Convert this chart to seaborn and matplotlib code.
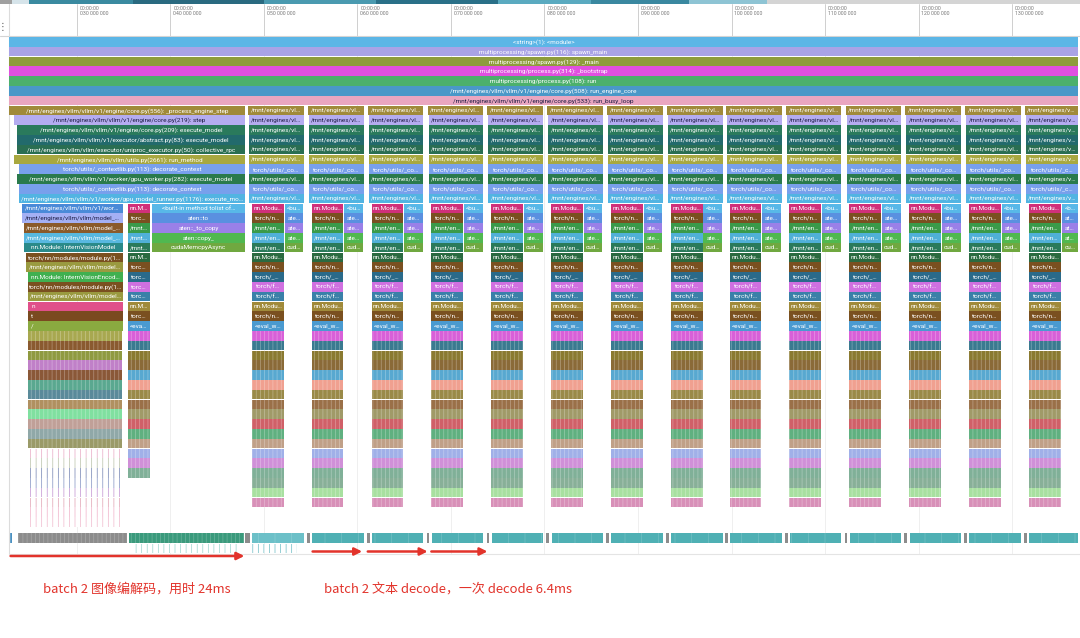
import matplotlib
matplotlib.use("Agg")
import matplotlib.pyplot as plt
from matplotlib.patches import Rectangle
import seaborn as sns

# ===== CONFIGURATION =====
sns.set_theme(style="white")
plt.rcParams['font.family'] = ['Noto Sans CJK SC', 'DejaVu Sans']
plt.rcParams['hatch.linewidth'] = 0.5

FLAME_FONT = ['Roboto', 'DejaVu Sans']
RED = '#e2332b'

# ===== DATA (time in ms, y = stack depth rows) =====
TRACK_START, TRACK_END = 22.73, 137.06
TICKS_MS = [30, 40, 50, 60, 70, 80, 90, 100, 110, 120, 130]

# rows 0-6 span the whole track
ROOT_LABELS = [
    "<string>(1): <module>",
    "multiprocessing/spawn.py(116): spawn_main",
    "multiprocessing/spawn.py(129): _main",
    "multiprocessing/process.py(314): _bootstrap",
    "multiprocessing/process.py(108): run",
    "/mnt/engines/vllm/vllm/v1/engine/core.py(508): run_engine_core",
    "/mnt/engines/vllm/vllm/v1/engine/core.py(533): run_busy_loop",
]
ROOT_COLORS = ['#5cb6e6', '#a9a3e6', '#8e9c3c', '#e050e0', '#4cb06c', '#4a98c8', '#eaa6c0']

# rows 7-16, one slice per engine step
STEP_LABELS = [
    "/mnt/engines/vllm/vllm/v1/engine/core.py(556): _process_engine_step",
    "/mnt/engines/vllm/vllm/v1/engine/core.py(219): step",
    "/mnt/engines/vllm/vllm/v1/engine/core.py(209): execute_model",
    "/mnt/engines/vllm/vllm/v1/executor/abstract.py(83): execute_model",
    "/mnt/engines/vllm/vllm/executor/uniproc_executor.py(50): collective_rpc",
    "/mnt/engines/vllm/vllm/utils.py(2661): run_method",
    "torch/utils/_contextlib.py(113): decorate_context",
    "/mnt/engines/vllm/vllm/v1/worker/gpu_worker.py(282): execute_model",
    "torch/utils/_contextlib.py(113): decorate_context",
    "/mnt/engines/vllm/vllm/v1/worker/gpu_model_runner.py(1176): execute_model",
]
STEP_COLORS = ['#a08a3a', '#b4acf0', '#2a7a5c', '#226a6c', '#2a6e52',
               '#a8a840', '#78a0ec', '#2a7a4c', '#78a0ec', '#52b4e2']

# image-encode step (batch 2)
IMG_STEP_STARTS = [22.73, 23.26, 23.6, 23.6, 23.6, 23.26, 23.8, 23.6, 23.8, 23.8]
IMG_STEP_END = 47.97

IMG_LEFT_LABELS = [
    "/mnt/engines/vllm/vllm/v1/worker/gpu_model_runner.py",
    "/mnt/engines/vllm/vllm/model_executor/models/internvl.py",
    "/mnt/engines/vllm/vllm/model_executor/models/internvl.py",
    "/mnt/engines/vllm/vllm/model_executor/models/intern_vit.py",
    "nn.Module: InternVisionModel",
    "torch/nn/modules/module.py(1751): _wrapped_call_impl",
    "/mnt/engines/vllm/vllm/model_executor/models/intern_vit.py",
    "nn.Module: InternVisionEncoder",
    "torch/nn/modules/module.py(1762): _call_impl",
    "/mnt/engines/vllm/vllm/model_executor/models/intern_vit.py",
    "n", "t", "/",
]
IMG_LEFT_COLORS = ['#4a8ad8', '#a4b0f4', '#8a5a2a', '#58b8e0', '#2a8a8a', '#7a5020',
                   '#9a9a40', '#40b050', '#7a5020', '#9a9a40', '#e0508a', '#7a4a20', '#8aaa40']
IMG_LEFT_STARTS = [24.12, 24.12, 24.33, 24.33, 24.33, 24.55, 24.55,
                   24.76, 24.76, 24.76, 24.76, 24.76, 24.76]
IMG_LEFT_END = 34.92
IMG_STRIPE_COLORS = ['#a8a850', '#8a5a30', '#8f9a40', '#c080c8', '#8a5838', '#5aa890',
                     '#5a8a9a', '#b09060', '#80e0a0', '#c0a098', '#90a8a8', '#9a9a68',
                     '#e8a8c4', '#b8c0a8', '#7080b0', '#8090c0', '#c090d0', '#e0a0b0',
                     '#f0b0c8', '#f0b8cc']
IMG_SPARSE_FROM = 12  # stripe rows from here on are sparse

# decode-like stack (rows 17+), shared by the image step tail and every decode step
DEC_LEFT_LABELS = [
    "nn.Module: InternVLChatModel",
    "torch/nn/modules/module.py(1751): _wrapped_call_impl",
    "/mnt/engines/vllm/vllm/model_executor/models/internvl.py",
    "/mnt/engines/vllm/vllm/model_executor/models/qwen2.py",
    "/mnt/engines/vllm/vllm/compilation/decorators.py",
    "nn.Module: Qwen2Model",
    "torch/nn/modules/module.py(1762): _call_impl",
    "torch/_dynamo/eval_frame.py",
    "torch/fx/graph_module.py",
    "torch/fx/graph_module.py",
    "nn.Module: GraphModule",
    "torch/nn/modules/module.py",
    "<eval_with_key>.58",
]
DEC_LEFT_COLORS = ['#d0307a', '#7a5020', '#3a9a4a', '#50b0d8', '#2a7a5a', '#2a6a40',
                   '#7a5020', '#2a6a8a', '#d070e0', '#3a80a8', '#a08a3a', '#7a5020', '#4a9ad0']
DEC_RIGHT_LABELS = ["<built-in method tolist of Tensor object>", "aten::to",
                    "aten::_to_copy", "aten::copy_", "cudaMemcpyAsync"]
DEC_RIGHT_COLORS = ['#58b8e8', '#5a90e0', '#9a80e8', '#50b850', '#70a840']
DEC_STRIPE_COLORS = ['#d860d8', '#3a7a90', '#8a7a30', '#8a6a38', '#58a8d0', '#f0a090',
                     '#9a8a48', '#9a7048', '#a09a68', '#d06068', '#60b080', '#c0a088',
                     '#a0b0e8', '#d090d8', '#80b098', '#88b098', '#a8e0a0', '#d890b8']

IMG_DEC_LEFT = (35.45, 37.81)
IMG_DEC_RIGHT = (38.02, 47.97)
IMG_DEC_ROWS = 28  # rows 17..44

DECODE_STARTS = [48.3, 54.7, 61.1, 67.5, 73.9, 80.3, 86.7, 93.1, 99.4, 105.8, 112.2, 118.6, 125.0, 131.4]
DECODE_LEN = 5.95
DEC_LEFT_OFF = (0.4, 3.8)
DEC_RIGHT_OFF = (3.9, 5.9)

# thread track at the bottom
TRACK_IMG_SEGS = [(22.8, 23.1, '#4a90c0'), (23.7, 35.4, '#8c8c8c'),
                  (35.6, 47.9, '#3a9a7c'), (48.0, 48.5, '#8c8c8c')]
TRACK_DEC_COLORS = ['#6cc0c8'] + ['#4fb0b4'] * 13
TRACK_SUB_SEGS = [(35.8, 47.3, '#9ad4cc'), (48.6, 53.5, '#6cbcc4')]

MINIMAP = [(21.77, 23.0, '#a0a0a0'), (23.0, 24.9, '#d6e4ea'), (24.9, 36.0, '#3a8aa0'),
           (36.0, 50.0, '#2a6a80'), (50.0, 62.0, '#4a9ab0'), (62.0, 75.0, '#2a7088'),
           (75.0, 85.0, '#5aaac0'), (85.0, 95.5, '#3a88a0'), (95.5, 103.8, '#8ec4d4'),
           (103.8, 137.27, '#d4d4d4')]

ARROW_IMG = (22.9, 47.9)
ARROWS_DEC = [(55.2, 60.5), (61.1, 67.5), (67.9, 73.9)]
NOTES = ["batch 2 图像编解码，用时 24ms", "batch 2 文本 decode，一次 decode 6.4ms"]
NOTES_X = [26.4, 56.4]

# ===== GEOMETRY =====
W_PX, H_PX = 1080, 638
X0, X1 = 21.77, 137.27          # ms at left / right edge of the picture
ROW_TOP_PX, ROW_PX = 37.0, 9.8  # first row top and row height in pixels
PX_PER_MS = W_PX / (X1 - X0)


def px_row(y_px):
    return (y_px - ROW_TOP_PX) / ROW_PX


def text_color(hex_color):
    r, g, b = (int(hex_color[i:i + 2], 16) / 255 for i in (1, 3, 5))
    return '#1c1c44' if 0.2126 * r + 0.7152 * g + 0.0722 * b > 0.68 else 'white'


def fit_label(label, width_ms):
    n = int((width_ms * PX_PER_MS - 5) / 3.1)
    if n < 2:
        return None
    if len(label) <= n:
        return label
    return label[:n - 1].rstrip() + '…'


def slice_(ax, row, start, end, color, label=None, hatch=None, hatch_color=None,
           height=0.98, left=False):
    end = min(end, TRACK_END)
    ax.add_patch(Rectangle((start, row), end - start, height, facecolor=color,
                           edgecolor=hatch_color if hatch else 'none',
                           linewidth=0, hatch=hatch, zorder=2))
    if label:
        txt = fit_label(label, end - start)
        if txt:
            x = start + 0.35 if left else (start + end) / 2
            ax.text(x, row + height / 2 + 0.03, txt, ha='left' if left else 'center',
                    va='center', fontsize=4.6, color=text_color(color),
                    family=FLAME_FONT, zorder=3)


def draw_stack(ax, left, right, n_left_rows):
    for i in range(min(n_left_rows, len(DEC_LEFT_LABELS))):
        slice_(ax, 17 + i, left[0], left[1], DEC_LEFT_COLORS[i], DEC_LEFT_LABELS[i])
    for i, (lab, col) in enumerate(zip(DEC_RIGHT_LABELS, DEC_RIGHT_COLORS)):
        slice_(ax, 17 + i, right[0], right[1], col, lab)
    for i in range(n_left_rows - len(DEC_LEFT_LABELS)):
        slice_(ax, 30 + i, left[0], left[1], DEC_STRIPE_COLORS[i],
               hatch='||||', hatch_color=(1, 1, 1, 0.35))


# ===== FIGURE =====
fig = plt.figure(figsize=(W_PX / 100, H_PX / 100), dpi=100)
ax = fig.add_axes([0, 0, 1, 1])
ax.set_xlim(X0, X1)
ax.set_ylim(px_row(H_PX), px_row(0))
ax.axis('off')

# header: minimap strip, ruler ticks and labels
for s, e, c in MINIMAP:
    ax.add_patch(Rectangle((s, px_row(0)), e - s, 4 / ROW_PX, facecolor=c, linewidth=0))
ax.plot([X0, X1], [px_row(36), px_row(36)], color='#d4d4d4', lw=0.8)
ax.plot([TRACK_START - 0.05] * 2, [px_row(4), px_row(554)], color='#dcdcdc', lw=0.8)
ax.text(X0 + 0.3, px_row(27), '⋮', fontsize=7, color='#555555', ha='center', va='center',
        family=['DejaVu Sans'])
for t in TICKS_MS:
    ax.plot([t, t], [px_row(4), px_row(36)], color='#c8c8c8', lw=0.6, zorder=1)
    ax.plot([t, t], [px_row(36), px_row(554)], color='#ececec', lw=0.6, zorder=0)
    ax.text(t + 0.3, px_row(6), f"00:00:00\n{t * 1000000:011,d}".replace(',', ' '),
            fontsize=3.8, color='#7a7a7a', ha='left', va='top', linespacing=1.1,
            family=FLAME_FONT)

# root frames
for i, (lab, col) in enumerate(zip(ROOT_LABELS, ROOT_COLORS)):
    slice_(ax, i, TRACK_START, TRACK_END, col, lab)

# image-encode step
for i, (lab, col) in enumerate(zip(STEP_LABELS, STEP_COLORS)):
    slice_(ax, 7 + i, IMG_STEP_STARTS[i], IMG_STEP_END, col, lab)
for i, (lab, col) in enumerate(zip(IMG_LEFT_LABELS, IMG_LEFT_COLORS)):
    slice_(ax, 17 + i, IMG_LEFT_STARTS[i], IMG_LEFT_END, col, lab, left=len(lab) == 1)
for i, col in enumerate(IMG_STRIPE_COLORS):
    if i < IMG_SPARSE_FROM:
        slice_(ax, 30 + i, IMG_LEFT_STARTS[-1], IMG_LEFT_END - 0.1, col,
               hatch='||||', hatch_color=(1, 1, 1, 0.35))
    else:
        slice_(ax, 30 + i, IMG_LEFT_STARTS[-1], IMG_LEFT_END - 0.1, 'white',
               hatch='|||', hatch_color=col)
draw_stack(ax, IMG_DEC_LEFT, IMG_DEC_RIGHT, IMG_DEC_ROWS)

# text decode steps
for s in DECODE_STARTS:
    for i, (lab, col) in enumerate(zip(STEP_LABELS, STEP_COLORS)):
        slice_(ax, 7 + i, s + (0.1 if i else 0.0), s + DECODE_LEN, col, lab)
    draw_stack(ax, (s + DEC_LEFT_OFF[0], s + DEC_LEFT_OFF[1]),
               (s + DEC_RIGHT_OFF[0], s + DEC_RIGHT_OFF[1]),
               len(DEC_LEFT_LABELS) + len(DEC_STRIPE_COLORS))

# thread track
bar_row, bar_h = px_row(533), 10 / ROW_PX
for s, e, c in TRACK_IMG_SEGS:
    slice_(ax, bar_row, s, e, c, height=bar_h, hatch='||||', hatch_color=(1, 1, 1, 0.25))
for s, c in zip(DECODE_STARTS, TRACK_DEC_COLORS):
    slice_(ax, bar_row, s - 0.1, s + 0.2, '#8c8c8c', height=bar_h)
    slice_(ax, bar_row, s + 0.45, s + DECODE_LEN, c, height=bar_h,
           hatch='|', hatch_color=(1, 1, 1, 0.2))
for s, e, c in TRACK_SUB_SEGS:
    slice_(ax, px_row(544), s, e, 'white', height=9 / ROW_PX, hatch='|||', hatch_color=c)
ax.plot([TRACK_START, X1], [px_row(554), px_row(554)], color='#e4e4e4', lw=0.8)

# annotations
arrow_kw = dict(arrowstyle='-|>', color=RED, lw=1.8, mutation_scale=11, shrinkA=0, shrinkB=0)
ax.annotate('', xy=(ARROW_IMG[1], px_row(556)), xytext=(ARROW_IMG[0], px_row(556)),
            arrowprops=arrow_kw)
for s, e in ARROWS_DEC:
    ax.annotate('', xy=(e, px_row(551.5)), xytext=(s, px_row(551.5)), arrowprops=arrow_kw)
for x, note in zip(NOTES_X, NOTES):
    ax.text(x, px_row(589.5), note, fontsize=9.4, color=RED, ha='left', va='center')

fig.savefig('out.png', dpi=100)
